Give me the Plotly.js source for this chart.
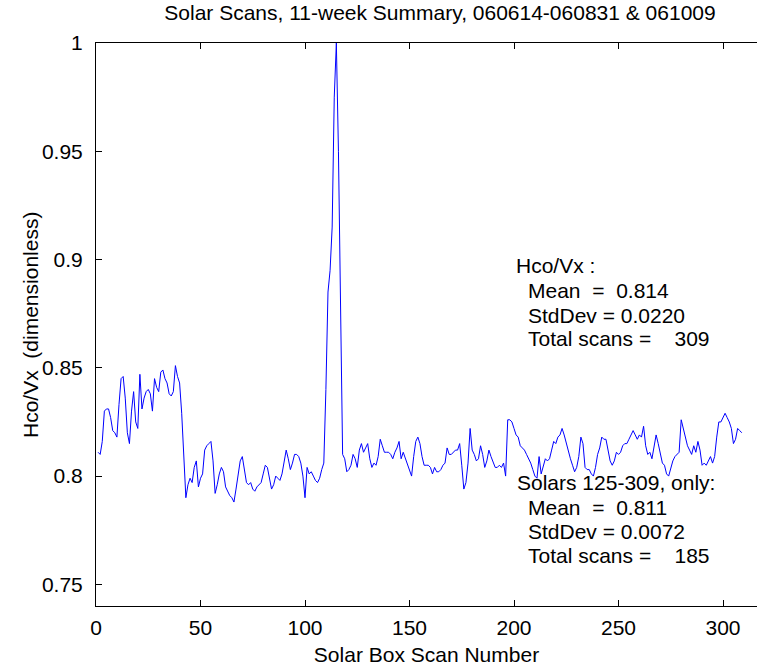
<!DOCTYPE html>
<html>
<head>
<meta charset="utf-8">
<script src="https://cdn.plot.ly/plotly-3.0.1.min.js"></script>
<style>
  html, body { margin: 0; padding: 0; background: #ffffff; overflow: hidden; }
  #chart { width: 757px; height: 671px; }
</style>
</head>
<body>
<div id="chart"></div>
<script>
// Hco/Vx ratio for each solar box scan (scan 1 .. 309)
const hcoVx = [
  0.811, 0.810, 0.816, 0.830, 0.831, 0.831, 0.827, 0.821, 0.820, 0.818,
  0.833, 0.845, 0.846, 0.836, 0.820, 0.815, 0.830, 0.839, 0.825, 0.822,
  0.847, 0.831, 0.836, 0.839, 0.840, 0.838, 0.830, 0.845, 0.841, 0.839,
  0.848, 0.849, 0.845, 0.843, 0.838, 0.837, 0.839, 0.851, 0.846, 0.843,
  0.829, 0.809, 0.790, 0.796, 0.799, 0.797, 0.804, 0.807, 0.795, 0.799,
  0.801, 0.812, 0.814, 0.815, 0.816, 0.807, 0.792, 0.796, 0.801, 0.804,
  0.802, 0.795, 0.793, 0.791, 0.790, 0.788, 0.794, 0.801, 0.807, 0.809,
  0.802, 0.797, 0.796, 0.797, 0.794, 0.793, 0.795, 0.796, 0.797, 0.801,
  0.805, 0.804, 0.799, 0.794, 0.796, 0.800, 0.799, 0.798, 0.801, 0.806,
  0.812, 0.808, 0.803, 0.806, 0.810, 0.810, 0.809, 0.806, 0.800, 0.790,
  0.804, 0.801, 0.802, 0.800, 0.798, 0.797, 0.799, 0.803, 0.806, 0.840,
  0.885, 0.895, 0.915, 0.975, 1.000, 0.950, 0.880, 0.810, 0.808, 0.802,
  0.803, 0.805, 0.810, 0.808, 0.804, 0.812, 0.815, 0.811, 0.813, 0.815,
  0.808, 0.804, 0.806, 0.805, 0.809, 0.817, 0.814, 0.811, 0.811, 0.811,
  0.810, 0.808, 0.811, 0.813, 0.816, 0.808, 0.811, 0.808, 0.806, 0.803,
  0.800, 0.809, 0.816, 0.818, 0.815, 0.809, 0.805, 0.805, 0.805, 0.804,
  0.801, 0.804, 0.802, 0.802, 0.803, 0.805, 0.806, 0.813, 0.810, 0.810,
  0.811, 0.812, 0.812, 0.815, 0.805, 0.794, 0.797, 0.806, 0.822, 0.812,
  0.810, 0.807, 0.808, 0.814, 0.810, 0.804, 0.807, 0.812, 0.809, 0.806,
  0.804, 0.804, 0.805, 0.804, 0.806, 0.800, 0.826, 0.826, 0.825, 0.822,
  0.819, 0.818, 0.814, 0.813, 0.812, 0.810, 0.808, 0.806, 0.803, 0.800,
  0.799, 0.809, 0.801, 0.804, 0.808, 0.807, 0.808, 0.812, 0.816, 0.815,
  0.818, 0.819, 0.822, 0.819, 0.815, 0.812, 0.808, 0.805, 0.802, 0.804,
  0.809, 0.818, 0.815, 0.804, 0.803, 0.803, 0.801, 0.800, 0.804, 0.810,
  0.813, 0.818, 0.817, 0.817, 0.811, 0.807, 0.805, 0.807, 0.811, 0.810,
  0.811, 0.814, 0.815, 0.815, 0.817, 0.819, 0.821, 0.819, 0.817, 0.819,
  0.818, 0.823, 0.814, 0.810, 0.811, 0.808, 0.813, 0.819, 0.815, 0.810,
  0.806, 0.805, 0.801, 0.800, 0.804, 0.807, 0.809, 0.810, 0.811, 0.826,
  0.822, 0.818, 0.814, 0.812, 0.810, 0.814, 0.811, 0.816, 0.812, 0.805,
  0.806, 0.805, 0.807, 0.809, 0.806, 0.809, 0.818, 0.825, 0.825, 0.827,
  0.829, 0.827, 0.825, 0.822, 0.815, 0.817, 0.822, 0.821, 0.820
];

// scan numbers run 1..N along the x axis
const scanNumber = hcoVx.map((_, i) => i + 1);

const xTickVals = [0, 50, 100, 150, 200, 250, 300];
const yTickVals = [0.75, 0.8, 0.85, 0.9, 0.95, 1];
const yTickText = ['0.75', '0.8', '0.85', '0.9', '0.95', '1'];

// summary statistics printed on the chart
const allStats = ['Hco/Vx :', 'Mean  =  0.814', 'StdDev = 0.0220', 'Total scans =    309'];
const subsetStats = ['Solars 125-309, only:', 'Mean  =  0.811', 'StdDev = 0.0072', 'Total scans =    185'];

const W = 757, H = 671;
const M = { l: 96, r: 0, t: 43, b: 65 };
const plotW = W - M.l - M.r, plotH = H - M.t - M.b;
const FONT = '"Liberation Sans", Arial, Helvetica, sans-serif';

// pixel position -> paper fraction
const px = (x) => (x - M.l) / plotW;
const py = (y) => (H - M.b - y) / plotH;
const keepSpaces = (s) => s.replace(/ /g, '\u00A0');

function statBlock(lines, left, indent, tops) {
  return lines.map((t, i) => ({
    text: keepSpaces(t),
    xref: 'paper', yref: 'paper',
    x: px(i === 0 ? left : indent), y: py(tops[i]),
    xanchor: 'left', yanchor: 'middle',
    showarrow: false,
    font: { family: FONT, size: 21, color: '#000000' }
  }));
}

const annotations = [
  ...statBlock(allStats, 514, 526, [265, 290, 315, 339]),
  ...statBlock(subsetStats, 515, 526, [482, 507, 531, 555]),
  {
    text: 'Hco/Vx  (dimensionless)'.replace(/  /g, '\u00A0\u00A0'),
    xref: 'paper', yref: 'paper',
    x: px(30), y: py(325),
    xanchor: 'center', yanchor: 'middle',
    textangle: -90, showarrow: false,
    font: { family: FONT, size: 21, color: '#000000' }
  }
];

const trace = {
  x: scanNumber,
  y: hcoVx,
  type: 'scatter',
  mode: 'lines',
  line: { color: '#0000ff', width: 1 },
  hoverinfo: 'x+y'
};

const axisCommon = {
  showgrid: false,
  zeroline: false,
  showline: true,
  linecolor: '#000000',
  linewidth: 1,
  ticks: 'inside',
  ticklen: 6,
  tickwidth: 1,
  tickcolor: '#000000',
  tickfont: { family: FONT, size: 21, color: '#000000' }
};

const layout = {
  width: W, height: H,
  margin: M,
  paper_bgcolor: '#ffffff',
  plot_bgcolor: '#ffffff',
  showlegend: false,
  title: {
    text: 'Solar Scans, 11-week Summary, 060614-060831 & 061009',
    font: { family: FONT, size: 21, color: '#000000' },
    xref: 'paper', x: px(440), xanchor: 'center',
    yref: 'container', y: 1 - 13 / H, yanchor: 'middle'
  },
  xaxis: Object.assign({}, axisCommon, {
    range: [0, plotW / 2.09],
    tickvals: xTickVals,
    ticktext: xTickVals.map(String),
    mirror: 'ticks',
    ticklabelstandoff: 3,
    title: {
      text: 'Solar Box Scan Number',
      font: { family: FONT, size: 21, color: '#000000' },
      standoff: 9
    }
  }),
  yaxis: Object.assign({}, axisCommon, {
    range: [0.74, 1],
    tickvals: yTickVals,
    ticktext: yTickText,
    mirror: false,
    ticklabelstandoff: 8
  }),
  annotations: annotations
};

Plotly.newPlot('chart', [trace], layout, { displayModeBar: false, staticPlot: true });
</script>
</body>
</html>
